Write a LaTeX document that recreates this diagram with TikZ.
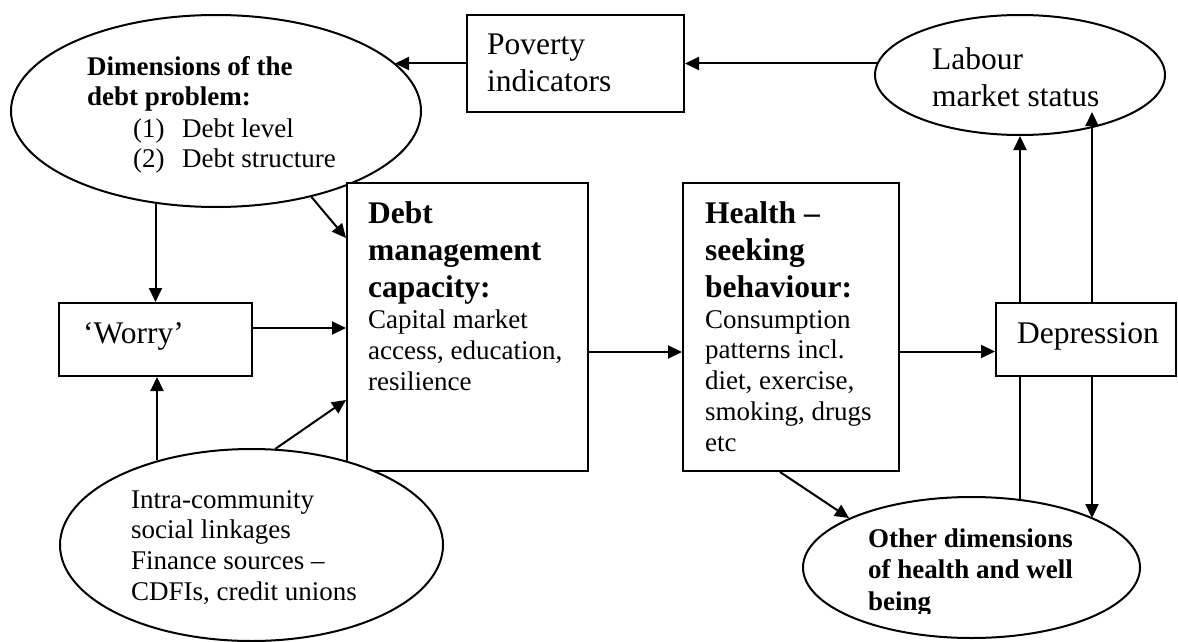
\documentclass[tikz,border=0pt]{standalone}
\usepackage{fontspec}
\setmainfont{Liberation Serif}
\usetikzlibrary{shapes.geometric,arrows.meta}
\newcommand\mlines[1]{\begin{tabular}[t]{@{}l@{}}#1\end{tabular}}
\begin{document}
\begin{tikzpicture}[x=1pt,y=-1pt,
  shapebox/.style={draw, line width=2pt, fill=white, rectangle, inner sep=0pt},
  oval/.style={draw, line width=2pt, fill=white, ellipse, inner sep=0pt},
  txt/.style={anchor=base west, inner sep=0pt},
  arr/.style={line width=2pt, -{Triangle[length=14pt,width=13pt]}},
  ln/.style={line width=2pt},
  bigr/.style={font=\fontsize{31.5}{37}\selectfont},
  bigb/.style={font=\fontsize{31.5}{37}\selectfont\bfseries},
  smallr/.style={font=\fontsize{27}{31}\selectfont},
  smallb/.style={font=\fontsize{27}{31}\selectfont\bfseries}]
\useasboundingbox (0,0) rectangle (1178,642);

% shapes
\node[oval, minimum width=410pt, minimum height=192pt] (dim) at (216,111) {};
\node[shapebox, minimum width=217pt, minimum height=97pt] (pov) at (575.5,63.5) {};
\node[oval, minimum width=290pt, minimum height=120pt] (lab) at (1020,75) {};
\node[shapebox, minimum width=193pt, minimum height=73pt] (worry) at (155.5,339.5) {};
\node[shapebox, minimum width=241pt, minimum height=288pt] (debt) at (467.5,327) {};
\node[shapebox, minimum width=216pt, minimum height=288pt] (health) at (791,327) {};
\node[shapebox, minimum width=180pt, minimum height=73pt] (dep) at (1086,339.5) {};
\node[oval, minimum width=383pt, minimum height=192pt] (intra) at (251.5,545) {};
\node[oval, minimum width=337pt, minimum height=141pt] (other) at (971.5,567.5) {};

% texts
\node[txt, smallb] (dimhead) at (87,75) {\fontsize{27}{30.5}\selectfont\mlines{Dimensions of the\\debt problem:}};
\node[txt, smallr] (dimitems) at (133,137) {\fontsize{27}{30.5}\selectfont\begin{tabular}[t]{@{}p{49pt}@{}l@{}}(1)&Debt level\\(2)&Debt structure\end{tabular}};
\node[txt, bigr] (povtext) at (487,55) {\mlines{Poverty\\indicators}};
\node[txt, bigr] (labtext) at (932,70) {\mlines{Labour\\market status}};
\node[txt, bigr] (worrytext) at (83,343) {‘Worry’};
\node[txt, bigr] (deptext) at (1017,343) {Depression};
\node[txt, bigb] (debthead) at (368,223) {\mlines{Debt\\management\\capacity:}};
\node[txt, smallr] (debtbody) at (368,328) {\mlines{Capital market\\access, education,\\resilience}};
\node[txt, bigb] (healthhead) at (705,223) {\mlines{Health –\\seeking\\behaviour:}};
\node[txt, smallr] (healthbody) at (705,328) {\fontsize{27}{30.8}\selectfont\mlines{Consumption\\patterns incl.\\diet, exercise,\\smoking, drugs\\etc}};
\node[txt, smallr] (intratext) at (131,508) {\fontsize{27}{30.7}\selectfont\mlines{Intra-community\\social linkages\\Finance sources –\\CDFIs, credit unions}};
\begin{scope}
  \clip (820,500) rectangle (1130,613);
  \node[txt, smallb] (othertext) at (868,547) {\fontsize{27}{31.5}\selectfont\mlines{Other dimensions\\of health and well\\being}};
\end{scope}

% connectors
\draw[arr] (lab.175 |- pov.east) -- (pov.east);
\draw[arr] (pov.west) -- (dim.15 |- pov.west);
\draw[arr] (worry.north |- dim.-122.4) -- (worry.north);
\draw[arr] (dim.-42) -- ([yshift=89pt]debt.west);
\draw[arr] ([yshift=11.5pt]worry.east) -- ([yshift=11.5pt]worry.east -| debt.west);
\draw[arr] ([xshift=1.5pt]worry.south |- intra.138) -- ([xshift=1.5pt]worry.south);
\draw[arr] (intra.76) -- ([yshift=-73pt]debt.west);
\draw[arr] ([yshift=-25pt]debt.east) -- ([yshift=-25pt]debt.east -| health.west);
\draw[arr] ([yshift=-12pt]dep.west -| health.east) -- ([yshift=-12pt]dep.west);
\draw[arr] ([xshift=-66pt]dep.north) -- ([xshift=-66pt]dep.north |- lab.south);
\draw[arr] ([xshift=6pt]dep.north) -- ([xshift=72pt,yshift=-37pt]lab.center);
\draw[ln] ([xshift=-66pt]dep.south) -- ([xshift=-66pt]dep.south |- other.54);
\draw[arr] ([xshift=6pt]dep.south) -- ([xshift=6pt]dep.south |- other.22);
\draw[arr] ([xshift=-11pt]health.south) -- (other.158);
\end{tikzpicture}
\end{document}
